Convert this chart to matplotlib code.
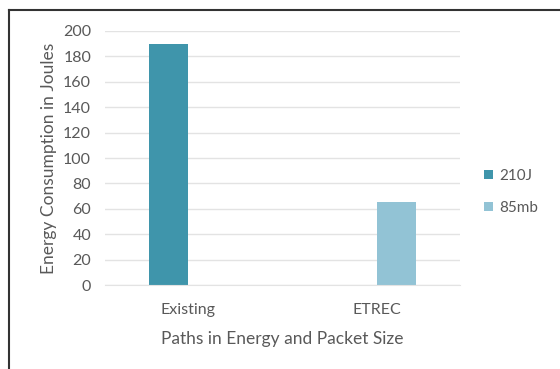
import numpy as np
import matplotlib
matplotlib.use('Agg')
import matplotlib.pyplot as plt
from matplotlib.lines import Line2D

categories = ['Existing', 'ETREC']
series = ['210J', '85mb']
values_210j = [190, 0]
values_85mb = [0, 65]
colors = ['#3f95ab', '#92c3d5']

plt.rcParams['font.family'] = ['Lato', 'DejaVu Sans']
gray = '#595959'

fig = plt.figure(figsize=(5.6, 3.69), dpi=100)
ax = fig.add_axes([0.1875, 0.2276, 0.6339, 0.6884])

x = np.arange(len(categories))
w = 0.206
ax.bar(x - w/2, values_210j, w, color=colors[0], label=series[0])
ax.bar(x + w/2, values_85mb, w, color=colors[1], label=series[1])

ax.set_ylim(0, 200)
ax.set_xlim(-0.44, 1.44)
ax.set_yticks(range(0, 201, 20))
ax.set_xticks(x)
ax.set_xticklabels(categories)
ax.yaxis.grid(True, color='#e3e3e3', linewidth=1)
ax.set_axisbelow(True)
for s in ax.spines.values():
    s.set_visible(False)
ax.spines['bottom'].set_visible(True)
ax.spines['bottom'].set_color('#e3e3e3')
ax.tick_params(length=0, colors=gray, labelsize=11.5)
ax.tick_params(axis='x', pad=13)
ax.tick_params(axis='y', pad=10)

ax.set_ylabel('Energy Consumption in Joules', color=gray, fontsize=12.5, labelpad=4)
ax.set_xlabel('Paths in Energy and Packet Size', color=gray, fontsize=12.5, labelpad=10)

leg = ax.legend(loc='upper left', bbox_to_anchor=(1.03, 0.51), frameon=False,
                handlelength=0.55, handleheight=0.55, handletextpad=0.4,
                labelspacing=1.15, fontsize=11)
for t in leg.get_texts():
    t.set_color(gray)

fig.add_artist(Line2D([0.0152, 0.0152], [0, 0.974], color='#333333', linewidth=1.5))
fig.add_artist(Line2D([0.0152, 1.0], [0.974, 0.974], color='#333333', linewidth=1.5))

fig.savefig('out.png', dpi=100)
